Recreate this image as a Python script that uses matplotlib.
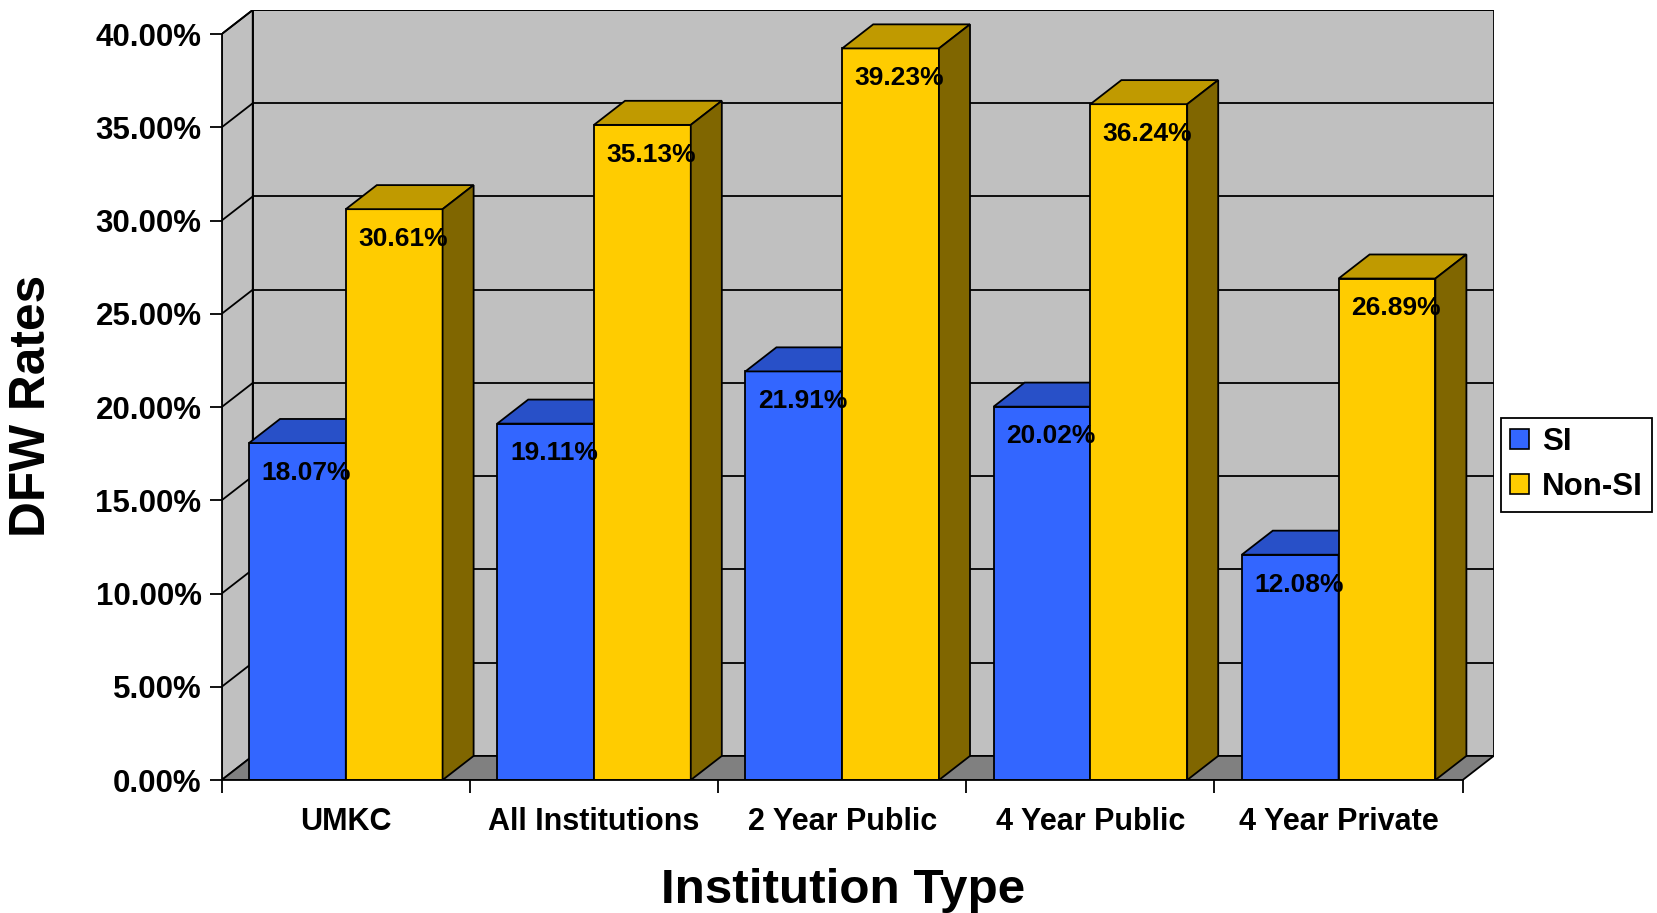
import matplotlib
matplotlib.use("Agg")
import matplotlib.pyplot as plt
from matplotlib.patches import Polygon, Patch

plt.rcParams['font.family'] = ['Liberation Sans', 'DejaVu Sans']
plt.rcParams['font.weight'] = 'bold'

# DFW rates by institution type
categories = ['UMKC', 'All Institutions', '2 Year Public', '4 Year Public', '4 Year Private']
si = [18.07, 19.11, 21.91, 20.02, 12.08]
non_si = [30.61, 35.13, 39.23, 36.24, 26.89]
series_names = ['SI', 'Non-SI']

# colours: front, top, side
blue = ('#3366FF', '#2850C8', '#1A3380')
gold = ('#FFCC00', '#C09A00', '#806600')
wall = '#C0C0C0'
floor = '#808080'

# depth of the fake 3d box, in data units
ddx = 0.125
ddy = 1.29
ymax = 40
ncat = len(categories)
bw = 0.39
off = 0.11
lw = 1.3

fig = plt.figure(figsize=(16.58, 9.13), dpi=100)
ax = fig.add_axes([221.7 / 1658, 133 / 913, 1272 / 1658, 770 / 913])
ax.set_xlim(0, ncat + ddx)
ax.set_ylim(0, ymax + ddy)


def poly(pts, fc, z):
    ax.add_patch(Polygon(pts, closed=True, facecolor=fc, edgecolor='black',
                         linewidth=lw, joinstyle='miter', zorder=z))


# walls and floor
poly([(ddx, ddy), (ncat + ddx, ddy), (ncat + ddx, ymax + ddy), (ddx, ymax + ddy)], wall, 1)
poly([(0, 0), (ddx, ddy), (ddx, ymax + ddy), (0, ymax)], wall, 1)
poly([(0, 0), (ncat, 0), (ncat + ddx, ddy), (ddx, ddy)], floor, 1)
for v in range(5, ymax + 1, 5):
    ax.plot([ddx, ncat + ddx], [v + ddy, v + ddy], color='black', lw=lw, zorder=2)
    ax.plot([0, ddx], [v, v + ddy], color='black', lw=lw, zorder=2)


def bar3d(x0, h, cols, z):
    x1 = x0 + bw
    poly([(x0, 0), (x1, 0), (x1, h), (x0, h)], cols[0], z)
    poly([(x0, h), (x1, h), (x1 + ddx, h + ddy), (x0 + ddx, h + ddy)], cols[1], z)
    poly([(x1, 0), (x1 + ddx, ddy), (x1 + ddx, h + ddy), (x1, h)], cols[2], z)


z = 3
for i in range(ncat):
    bar3d(i + off, si[i], blue, z)
    bar3d(i + off + bw, non_si[i], gold, z + 1)
    z += 2

for i in range(ncat):
    for j, vals in enumerate([si, non_si]):
        xc = i + off + bw * j + bw / 2 + 0.035
        ax.text(xc, vals[i] - 1.6, f"{vals[i]:.2f}%", ha='center', va='center',
                fontsize=19, fontweight='bold', zorder=50)

# axes
for s in ['top', 'right']:
    ax.spines[s].set_visible(False)
ax.spines['left'].set_bounds(0, ymax)
ax.spines['bottom'].set_bounds(0, ncat)
for s in ['left', 'bottom']:
    ax.spines[s].set_linewidth(lw)
    ax.spines[s].set_zorder(40)

yt = list(range(0, ymax + 1, 5))
ax.set_yticks(yt)
ax.set_yticklabels([f"{v:.2f}%" for v in yt])
ax.tick_params(axis='y', direction='out', length=8.5, width=lw, pad=6, labelsize=22.5)

ax.set_xticks(range(ncat + 1))
ax.set_xticklabels([])
ax.set_xticks([i + 0.5 for i in range(ncat)], minor=True)
ax.set_xticklabels(categories, minor=True)
ax.tick_params(axis='x', which='major', direction='out', length=9.5, width=lw)
ax.tick_params(axis='x', which='minor', length=0, pad=19.5, labelsize=22)

fig.text(843 / 1658, 1 - 903 / 913, 'Institution Type', ha='center', va='baseline',
         fontsize=35.6, fontweight='bold')
fig.text(32 / 1658, 1 - 406 / 913, 'DFW Rates', ha='center', va='center',
         rotation=90, fontsize=35.7, fontweight='bold')

handles = [Patch(facecolor=blue[0], edgecolor='black', linewidth=1.2),
           Patch(facecolor=gold[0], edgecolor='black', linewidth=1.2)]
leg = fig.legend(handles, series_names, loc='upper left',
                 bbox_to_anchor=(1500.7 / 1658, 1 - 418 / 913), borderaxespad=0,
                 fancybox=False, edgecolor='black', framealpha=1,
                 prop={'size': 22.5, 'weight': 'bold'}, handlelength=0.62,
                 handleheight=0.62, handletextpad=0.4, borderpad=0.3,
                 labelspacing=0.48)
leg.get_frame().set_linewidth(1.3)

fig.savefig('out.png', dpi=100)
